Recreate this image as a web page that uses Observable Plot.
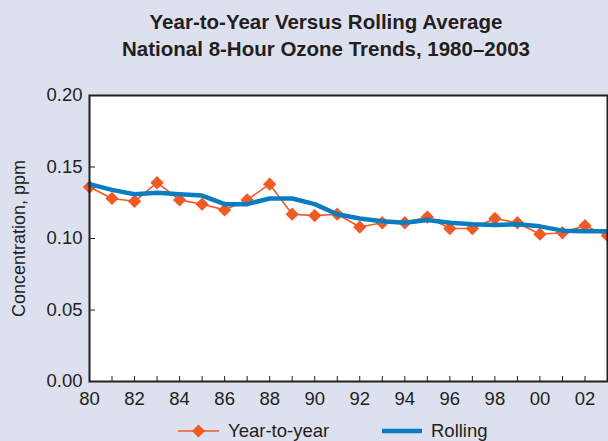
<!DOCTYPE html>
<html>
<head>
<meta charset="utf-8">
<script src="https://cdn.jsdelivr.net/npm/d3@7"></script>
<script src="https://cdn.jsdelivr.net/npm/@observablehq/plot@0.6"></script>
<style>
  html, body { margin: 0; padding: 0; background: #dde0ef; }
  #wrap { position: relative; width: 608px; height: 441px; background: #dde0ef; overflow: hidden; font-family: "Liberation Sans", Arial, sans-serif; color: #231f20; }
  #title { position: absolute; left: 22px; width: 608px; top: 8px; text-align: center; font-weight: bold; font-size: 20.5px; line-height: 27px; font-family: "Liberation Sans", Arial, sans-serif; }
  #chart { position: absolute; left: 0; top: 0; }
  #legend { position: absolute; top: 419px; left: 0; width: 608px; height: 23px; font-size: 18.5px; }
  .item { position: absolute; top: 0; display: flex; align-items: center; height: 23px; }
  .item svg { margin-right: 9px; }
</style>
</head>
<body>
<div id="wrap">
  <div id="chart"></div>
  <div id="title">Year-to-Year Versus Rolling Average<br>National 8-Hour Ozone Trends, 1980–2003</div>
  <div id="legend"></div>
</div>
<script>
const years = d3.range(1980, 2004);
const yearToYear = [0.136, 0.128, 0.126, 0.139, 0.127, 0.124, 0.120, 0.127, 0.138, 0.117, 0.116, 0.117,
                    0.108, 0.111, 0.111, 0.115, 0.107, 0.107, 0.114, 0.111, 0.103, 0.104, 0.109, 0.102];
const rolling = [0.138, 0.134, 0.131, 0.132, 0.131, 0.130, 0.124, 0.124, 0.128, 0.128, 0.124, 0.117,
                 0.114, 0.112, 0.111, 0.113, 0.111, 0.110, 0.1095, 0.110, 0.1085, 0.1055, 0.105, 0.105];
const yTicks = [0, 0.05, 0.10, 0.15, 0.20];
const xLabelYears = d3.range(1980, 2003, 2);
const seriesNames = ["Year-to-year", "Rolling"];
const yLabel = "Concentration, ppm";

const orange = "#f15a24";
const blue = "#0a7dc2";
const ink = "#231f20";

const yy = years.map((y, i) => ({year: y, value: yearToYear[i]}));
const rr = years.map((y, i) => ({year: y, value: rolling[i]}));

const chart = Plot.plot({
  width: 608,
  height: 441,
  marginLeft: 89,
  marginRight: 1,
  marginTop: 95,
  marginBottom: 60,
  style: {background: "transparent", fontFamily: "'Liberation Sans', Arial, sans-serif", fontSize: "18px", color: ink},
  x: {domain: [1980, 2003]},
  y: {domain: [0, 0.2]},
  marks: [
    Plot.frame({fill: "white", stroke: null}),
    Plot.axisY(yTicks, {tickSize: -6, tickFormat: () => "", label: null, stroke: ink}),
    Plot.axisY(yTicks, {tickSize: 0, tickPadding: 7, tickFormat: d3.format(".2f"), label: null, fill: ink, fontSize: 18.5}),
    Plot.axisX(years, {tickSize: -5, tickFormat: () => "", label: null, stroke: ink}),
    Plot.axisX(xLabelYears, {tickSize: 0, tickPadding: 10, tickFormat: d => String(d % 100).padStart(2, "0"), label: null, fill: ink, fontSize: 18.5}),
    Plot.text([yLabel], {frameAnchor: "left", text: d => d, rotate: -90, dx: -70, textAnchor: "middle", fill: ink, fontSize: 18}),
    Plot.line(yy, {x: "year", y: "value", stroke: orange, strokeWidth: 1.6}),
    Plot.dot(yy, {x: "year", y: "value", symbol: "diamond2", r: 6, fill: orange, stroke: null}),
    Plot.line(rr, {x: "year", y: "value", stroke: blue, strokeWidth: 4.5}),
    Plot.frame({stroke: ink, strokeWidth: 2, fill: null})
  ]
});
document.getElementById("chart").appendChild(chart);

// legend
const legend = d3.select("#legend");
const it1 = legend.append("div").attr("class", "item").style("left", "178px");
const s1 = it1.append("svg").attr("width", 41).attr("height", 16);
s1.append("line").attr("x1", 0).attr("x2", 41).attr("y1", 8).attr("y2", 8).attr("stroke", orange).attr("stroke-width", 1.6);
s1.append("path").attr("d", d3.symbol(d3.symbolDiamond2, 110)()).attr("transform", "translate(20.5,8)").attr("fill", orange);
it1.append("span").text(seriesNames[0]);
const it2 = legend.append("div").attr("class", "item").style("left", "382px");
const s2 = it2.append("svg").attr("width", 40).attr("height", 16);
s2.append("line").attr("x1", 0).attr("x2", 40).attr("y1", 8).attr("y2", 8).attr("stroke", blue).attr("stroke-width", 4.5);
it2.append("span").text(seriesNames[1]);
</script>
</body>
</html>
